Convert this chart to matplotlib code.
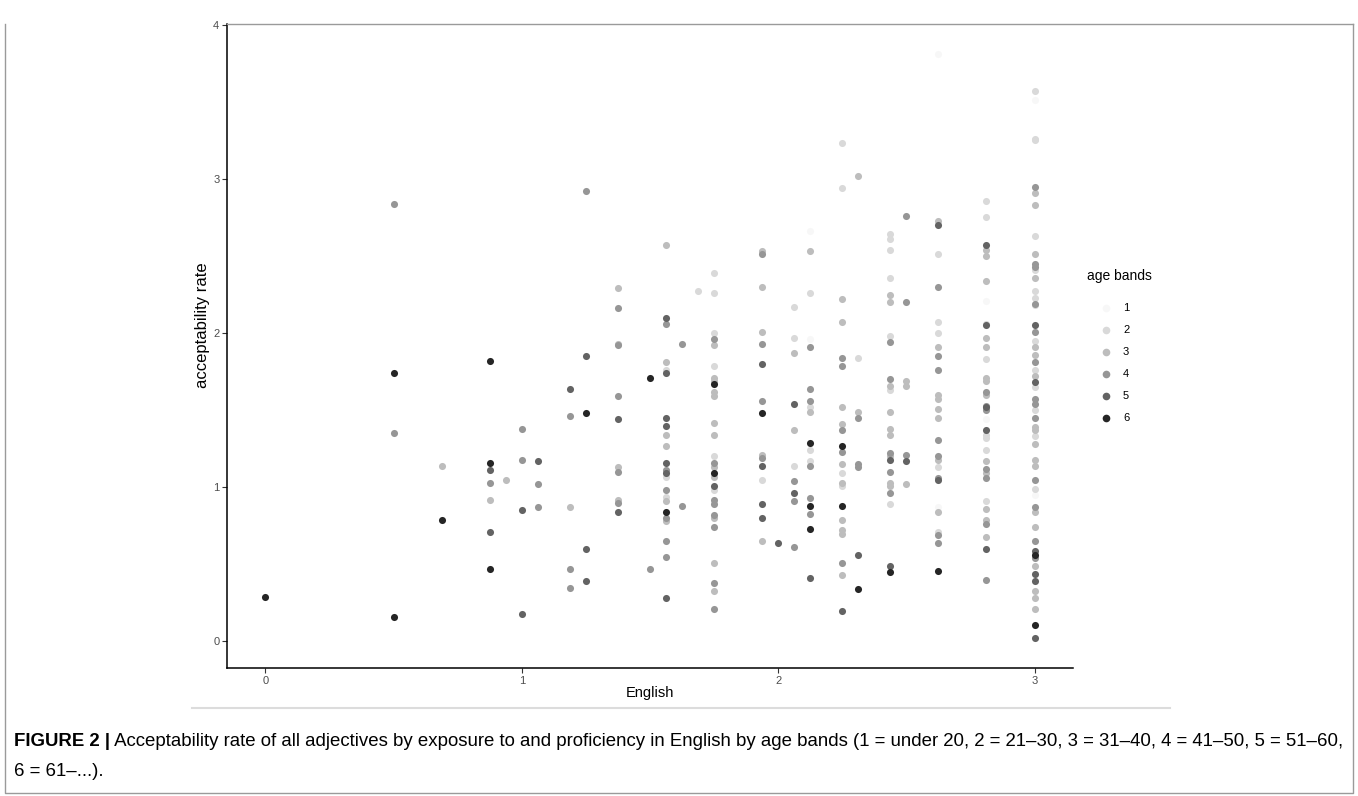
import matplotlib
matplotlib.use("Agg")
import matplotlib.pyplot as plt
from matplotlib.lines import Line2D

# English score (x) and acceptability rate (y), split by age band
b1_x = [2.125, 2.125, 2.625, 2.625, 2.8125, 2.8125, 3, 3]
b1_y = [2.66, 1.96, 3.81, 0.87, 2.21, 1.44, 3.51, 0.95]

b2_x = [1.5625, 1.5625, 1.5625, 1.6875,
        1.75, 1.75, 1.75, 1.75, 1.75, 1.75,
        1.9375, 2.0625, 2.0625, 2.0625,
        2.125, 2.125, 2.125, 2.125,
        2.25, 2.25, 2.25, 2.25, 2.3125,
        2.4375, 2.4375, 2.4375, 2.4375, 2.4375, 2.4375, 2.4375,
        2.625, 2.625, 2.625, 2.625, 2.625,
        2.8125, 2.8125, 2.8125, 2.8125, 2.8125, 2.8125, 2.8125, 2.8125,
        3, 3, 3, 3, 3, 3, 3, 3, 3, 3, 3, 3, 3, 3]
b2_y = [1.76, 1.07, 0.94, 2.27,
        2.39, 2.26, 2.00, 1.79, 1.20, 0.98,
        1.05, 2.17, 1.97, 1.14,
        2.26, 1.52, 1.24, 1.17,
        3.23, 2.94, 1.09, 1.01, 1.84,
        2.64, 2.61, 2.54, 2.36, 1.98, 1.63, 0.89,
        2.51, 2.07, 2.00, 1.13, 0.71,
        2.86, 2.75, 2.06, 1.83, 1.34, 1.32, 1.24, 0.91,
        3.57, 3.26, 3.25, 2.63, 2.41, 2.27, 2.23, 2.18, 1.95, 1.76, 1.65, 1.50, 1.33, 0.99]

b3_x = [0.6875, 0.875, 0.9375, 1.1875,
        1.375, 1.375, 1.375, 1.375,
        1.5625, 1.5625, 1.5625, 1.5625, 1.5625, 1.5625,
        1.75, 1.75, 1.75, 1.75, 1.75, 1.75, 1.75, 1.75, 1.75, 1.75, 1.75, 1.75,
        1.9375, 1.9375, 1.9375, 1.9375, 1.9375,
        2.0625, 2.0625, 2.125, 2.125,
        2.25, 2.25, 2.25, 2.25, 2.25, 2.25, 2.25, 2.25, 2.25, 2.25,
        2.3125, 2.3125,
        2.4375, 2.4375, 2.4375, 2.4375, 2.4375, 2.4375, 2.4375, 2.4375, 2.4375,
        2.5, 2.5, 2.5,
        2.625, 2.625, 2.625, 2.625, 2.625, 2.625, 2.625, 2.625,
        2.8125, 2.8125, 2.8125, 2.8125, 2.8125, 2.8125, 2.8125, 2.8125, 2.8125,
        2.8125, 2.8125, 2.8125, 2.8125,
        3, 3, 3, 3, 3, 3, 3, 3, 3, 3, 3, 3, 3, 3, 3, 3, 3, 3]
b3_y = [1.14, 0.92, 1.05, 0.87,
        2.29, 1.93, 1.13, 0.92,
        2.57, 1.81, 1.34, 1.27, 0.91, 0.78,
        1.92, 1.71, 1.69, 1.62, 1.59, 1.42, 1.34, 1.13, 1.07, 0.80, 0.51, 0.33,
        2.53, 2.30, 2.01, 1.21, 0.65,
        1.87, 1.37, 2.53, 1.49,
        2.22, 2.07, 1.52, 1.41, 1.15, 1.03, 0.79, 0.72, 0.70, 0.43,
        3.02, 1.49,
        2.25, 2.20, 1.66, 1.49, 1.38, 1.34, 1.20, 1.03, 1.01,
        1.69, 1.66, 1.02,
        2.73, 1.91, 1.60, 1.57, 1.51, 1.45, 1.18, 0.84,
        2.54, 2.50, 2.34, 1.97, 1.91, 1.71, 1.69, 1.60, 1.17,
        1.09, 0.86, 0.79, 0.68,
        2.91, 2.83, 2.51, 2.36, 1.91, 1.86, 1.72, 1.39, 1.37, 1.28, 1.18, 1.14, 0.84, 0.74, 0.49, 0.33, 0.28, 0.21]

b4_x = [0.5, 0.5, 0.875, 1.0, 1.0, 1.0625, 1.0625,
        1.1875, 1.1875, 1.1875, 1.25,
        1.375, 1.375, 1.375, 1.375, 1.375, 1.5,
        1.5625, 1.5625, 1.5625, 1.5625, 1.5625, 1.5625, 1.625, 1.625,
        1.75, 1.75, 1.75, 1.75, 1.75, 1.75, 1.75, 1.75,
        1.9375, 1.9375, 1.9375, 1.9375,
        2.0625, 2.0625, 2.0625,
        2.125, 2.125, 2.125, 2.125, 2.125, 2.125,
        2.25, 2.25, 2.25, 2.25, 2.25,
        2.3125, 2.3125, 2.3125,
        2.4375, 2.4375, 2.4375, 2.4375, 2.4375,
        2.5, 2.5, 2.5,
        2.625, 2.625, 2.625, 2.625, 2.625, 2.625, 2.625, 2.625,
        2.8125, 2.8125, 2.8125, 2.8125, 2.8125, 2.8125, 2.8125,
        3, 3, 3, 3, 3, 3, 3, 3, 3, 3, 3, 3, 3]
b4_y = [2.84, 1.35, 1.03, 1.38, 1.18, 1.02, 0.87,
        1.46, 0.47, 0.35, 2.92,
        2.16, 1.92, 1.59, 1.10, 0.90, 0.47,
        2.06, 1.11, 0.98, 0.80, 0.65, 0.55, 1.93, 0.88,
        1.96, 1.16, 0.92, 0.89, 0.82, 0.74, 0.38, 0.21,
        2.51, 1.93, 1.56, 1.19,
        1.04, 0.91, 0.61,
        1.91, 1.64, 1.56, 1.14, 0.93, 0.83,
        1.84, 1.79, 1.37, 1.23, 0.51,
        1.45, 1.15, 1.13,
        1.94, 1.70, 1.22, 1.10, 0.96,
        2.76, 2.20, 1.21,
        2.30, 1.85, 1.76, 1.31, 1.20, 1.06, 0.69, 0.64,
        1.62, 1.53, 1.50, 1.12, 1.06, 0.76, 0.40,
        2.95, 2.45, 2.43, 2.19, 2.01, 1.81, 1.57, 1.54, 1.45, 1.05, 0.87, 0.65, 0.54]

b5_x = [0.875, 0.875, 1.0, 1.0, 1.0625, 1.1875,
        1.25, 1.25, 1.25, 1.375, 1.375,
        1.5625, 1.5625, 1.5625, 1.5625, 1.5625, 1.5625, 1.5625,
        1.75, 1.9375, 1.9375, 1.9375, 1.9375, 2.0,
        2.0625, 2.0625, 2.125, 2.25, 2.3125, 2.4375, 2.4375, 2.5,
        2.625, 2.625, 2.8125, 2.8125, 2.8125, 2.8125, 2.8125,
        3, 3, 3, 3, 3, 3]
b5_y = [1.11, 0.71, 0.85, 0.18, 1.17, 1.64,
        1.85, 0.60, 0.39, 1.44, 0.84,
        2.10, 1.74, 1.45, 1.40, 1.16, 1.09, 0.28,
        1.01, 1.80, 1.14, 0.89, 0.80, 0.64,
        1.54, 0.96, 0.41, 0.20, 0.56, 1.18, 0.49, 1.17,
        2.70, 1.05, 2.57, 2.05, 1.52, 1.37, 0.60,
        2.05, 1.68, 0.59, 0.44, 0.39, 0.02]

b6_x = [0, 0.5, 0.5, 0.6875, 0.875, 0.875, 0.875, 1.25, 1.5, 1.5625,
        1.75, 1.75, 1.9375, 2.125, 2.125, 2.125, 2.25, 2.25,
        2.3125, 2.4375, 2.625, 3, 3]
b6_y = [0.29, 1.74, 0.16, 0.79, 1.82, 1.16, 0.47, 1.48, 1.71, 0.84,
        1.67, 1.09, 1.48, 1.29, 0.88, 0.73, 1.27, 0.88,
        0.34, 0.45, 0.46, 0.56, 0.11]

band_labels = ["1", "2", "3", "4", "5", "6"]
band_colors = ["#f7f7f7", "#d9d9d9", "#bdbdbd", "#969696", "#636363", "#252525"]

W, H = 1358, 796
plt.rcParams["font.family"] = ["Liberation Sans", "DejaVu Sans"]
fig = plt.figure(figsize=(W / 100, H / 100), dpi=100)


def fx(px):
    return px / W


def fy(py):
    return 1 - py / H


ax = fig.add_axes([fx(227), fy(668), (1073 - 227) / W, (668 - 24) / H])

xs_all = [b1_x, b2_x, b3_x, b4_x, b5_x, b6_x]
ys_all = [b1_y, b2_y, b3_y, b4_y, b5_y, b6_y]
for xs, ys, col in zip(xs_all, ys_all, band_colors):
    ax.scatter(xs, ys, s=26, color=col, linewidths=0, zorder=3)

ax.set_xlim(-0.15, 3.15)
ax.set_ylim(-0.172, 4.005)
ax.set_xticks([0, 1, 2, 3])
ax.set_yticks([0, 1, 2, 3, 4])
for s in ["top", "right"]:
    ax.spines[s].set_visible(False)
for s in ["left", "bottom"]:
    ax.spines[s].set_linewidth(1.1)
ax.tick_params(length=3.5, width=0.8, color="#333333", labelsize=8,
               labelcolor="#4d4d4d", pad=2)

fig.text(fx(650), fy(693), "English", ha="center", va="center", fontsize=10.5)
fig.text(fx(203), fy(325), "acceptability rate", ha="center", va="center",
         rotation=90, fontsize=12)

# legend drawn by hand
fig.text(fx(1087), fy(276), "age bands", ha="left", va="center", fontsize=10)
for i, (lab, col) in enumerate(zip(band_labels, band_colors)):
    yy = 308 + i * 22
    fig.add_artist(Line2D([fx(1106)], [fy(yy)], marker="o", markersize=5.5,
                          markerfacecolor=col, markeredgewidth=0, linestyle="none",
                          transform=fig.transFigure))
    fig.text(fx(1123), fy(yy), lab, ha="left", va="center", fontsize=8)

# frame and separator
frame_col = "#9a9a9a"
fig.add_artist(Line2D([fx(227), fx(1353)], [fy(24), fy(24)], color=frame_col, lw=1,
                      transform=fig.transFigure))
fig.add_artist(Line2D([fx(5), fx(5), fx(1353), fx(1353)],
                      [fy(24), fy(793), fy(793), fy(24)], color=frame_col, lw=1,
                      transform=fig.transFigure))
fig.add_artist(Line2D([fx(192), fx(1170)], [fy(708), fy(708)], color="#dcdcdc", lw=1.5,
                      transform=fig.transFigure))

# caption
fs = 10
t1 = fig.text(fx(14), fy(742), "FIGURE 2 |", fontsize=fs, fontweight="bold", va="center")
rest = (" Acceptability rate of all adjectives by exposure to and proficiency in English "
        "by age bands (1 = under 20, 2 = 21–30, 3 = 31–40, 4 = 41–50, 5 = 51–60,")
t2 = fig.text(fx(14), fy(742), rest, fontsize=fs, va="center")
t3 = fig.text(fx(14), fy(772), "6 = 61–...).", fontsize=fs, va="center")
r = fig.canvas.get_renderer()
total = t1.get_window_extent(r).width + t2.get_window_extent(r).width
fs = fs * 1331 / total
for t in (t1, t2, t3):
    t.set_fontsize(fs)
w1 = t1.get_window_extent(r).width
t2.set_position((fx(14 + w1), fy(742)))

fig.savefig("out.png", dpi=100)
